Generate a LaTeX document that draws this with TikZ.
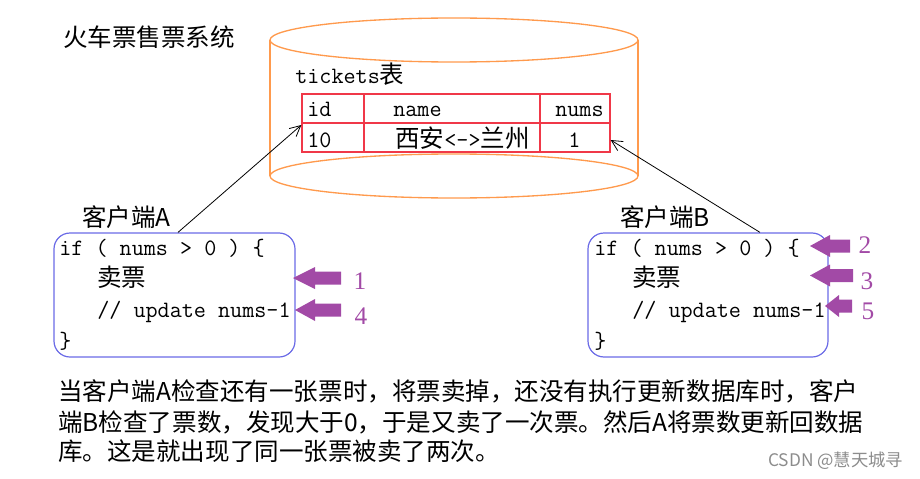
\documentclass[tikz,border=0pt]{standalone}
\usepackage{fontspec}
\newfontfamily\cjk{Noto Sans CJK SC}
\newfontfamily\numfont{Liberation Serif}
\usetikzlibrary{arrows.meta,calc}
\definecolor{cylor}{HTML}{FF9A4D}
\definecolor{tabred}{HTML}{F03848}
\definecolor{boxblue}{HTML}{6A6AE6}
\definecolor{purp}{HTML}{A24AA6}
\newcommand\cj[1]{{\fontsize{18.4}{21}\selectfont\cjk #1}}
\newcommand\parrow[3]{\fill[purp] (#1) -- ++(#2,-11) -- ++(0,4.5) -- ++(#3,0) -- ++(0,13) -- ++(-#3,0) -- ++(0,4.5) -- cycle;}
\begin{document}
\begin{tikzpicture}[x=0.75pt,y=-0.75pt,
  txt/.style={inner sep=0pt, anchor=base west},
  code/.style={txt, font=\fontsize{17.6}{21}\selectfont\ttfamily},
  cjkt/.style={txt, font=\fontsize{18.4}{21}\selectfont\cjk},
  cyl/.style={draw=cylor, line width=1pt},
  cbox/.style={draw=boxblue, line width=0.9pt, rounded corners=12pt, inner sep=0pt},
  tabgrid/.style={draw=tabred, line width=1pt},
  num/.style={inner sep=0pt, text=purp, font=\fontsize{19}{21}\selectfont\numfont},
  conn/.style={draw=black, line width=0.6pt, -{Straight Barb[length=8pt,width=8pt]}},
  wm/.style={txt, text=black!45, font=\fontsize{13}{15}\selectfont\cjk}]
\useasboundingbox (0,0) rectangle (920,478);
% title
\node[cjkt] (title) at (63,46) {火车票售票系统};
% cylinder
\draw[cyl] (454,40) ellipse [x radius=138pt, y radius=16.5pt];
\draw[cyl] (454,176) ellipse [x radius=138pt, y radius=16.5pt];
\draw[cyl] (270,40) -- (270,176) (638,40) -- (638,176);
% table
\node[code] (tname) at (295,84) {tickets\cj{表}};
\node[tabgrid, minimum width=231pt, minimum height=43.5pt, inner sep=0pt] (tbl) at (456,123) {};
\draw[tabgrid] (tbl.west) -- (tbl.east);
\draw[tabgrid] (364,94) -- (364,152) (540,94) -- (540,152);
\node[code] (cid) at (307,116) {id};
\node[code] (cname) at (393,116) {name};
\node[code] (cnums) at (555,116) {nums};
\node[code] (v10) at (307,147) {10};
\node[code] (vname) at (395,147) {\cj{西安}<->\cj{兰州}};
\node[code] (v1) at (568,147) {1};
% client A
\node[cjkt] (labA) at (82,226) {客户端A};
\node[cbox, minimum width=180.75pt, minimum height=93pt] (boxA) at (174.5,295) {};
\node[code] (a1) at (59,255) {if ( nums > 0 ) \{};
\node[cjkt] (a2) at (97,286) {卖票};
\node[code] (a3) at (97,317) {// update nums-1};
\node[code] (a4) at (59,348) {\}};
% client B
\node[cjkt] (labB) at (620,226) {客户端B};
\node[cbox, minimum width=180pt, minimum height=93pt] (boxB) at (708,295) {};
\node[code] (b1) at (594,255) {if ( nums > 0 ) \{};
\node[cjkt] (b2) at (632,286) {卖票};
\node[code] (b3) at (632,317) {// update nums-1};
\node[code] (b4) at (594,348) {\}};
% connectors
\coordinate (aStart) at ([xshift=2.6pt]boxA.north);
\coordinate (bStart) at ([xshift=39pt]boxB.north);
\draw[conn] (aStart) -- ([yshift=-1.5pt]tbl.west);
\draw[conn] (bStart) -- ([yshift=-12.75pt]tbl.east);
% purple arrows
\coordinate (p1) at (293,278);
\coordinate (p4) at (295,310);
\coordinate (p2) at (810,246);
\coordinate (p3) at (810,275.5);
\coordinate (p5) at (825,306);
\parrow{p1}{22}{26}
\parrow{p4}{20}{26}
\parrow{p2}{20}{20}
\parrow{p3}{20}{23}
\parrow{p5}{14}{13}
\node[num] (n1) at (360,281) {1};
\node[num] (n4) at (361,316) {4};
\node[num] (n2) at (865,245) {2};
\node[num] (n3) at (867,281) {3};
\node[num] (n5) at (868,311) {5};
% description
\node[cjkt] (d1) at (58,400) {当客户端A检查还有一张票时，将票卖掉，还没有执行更新数据库时，客户};
\node[cjkt] (d2) at (58,431) {端B检查了票数，发现大于0，于是又卖了一次票。然后A将票数更新回数据};
\node[cjkt] (d3) at (58,460) {库。这是就出现了同一张票被卖了两次。};
\node[wm] (wmark) at (768,466) {CSDN @慧天城寻};
\end{tikzpicture}
\end{document}
